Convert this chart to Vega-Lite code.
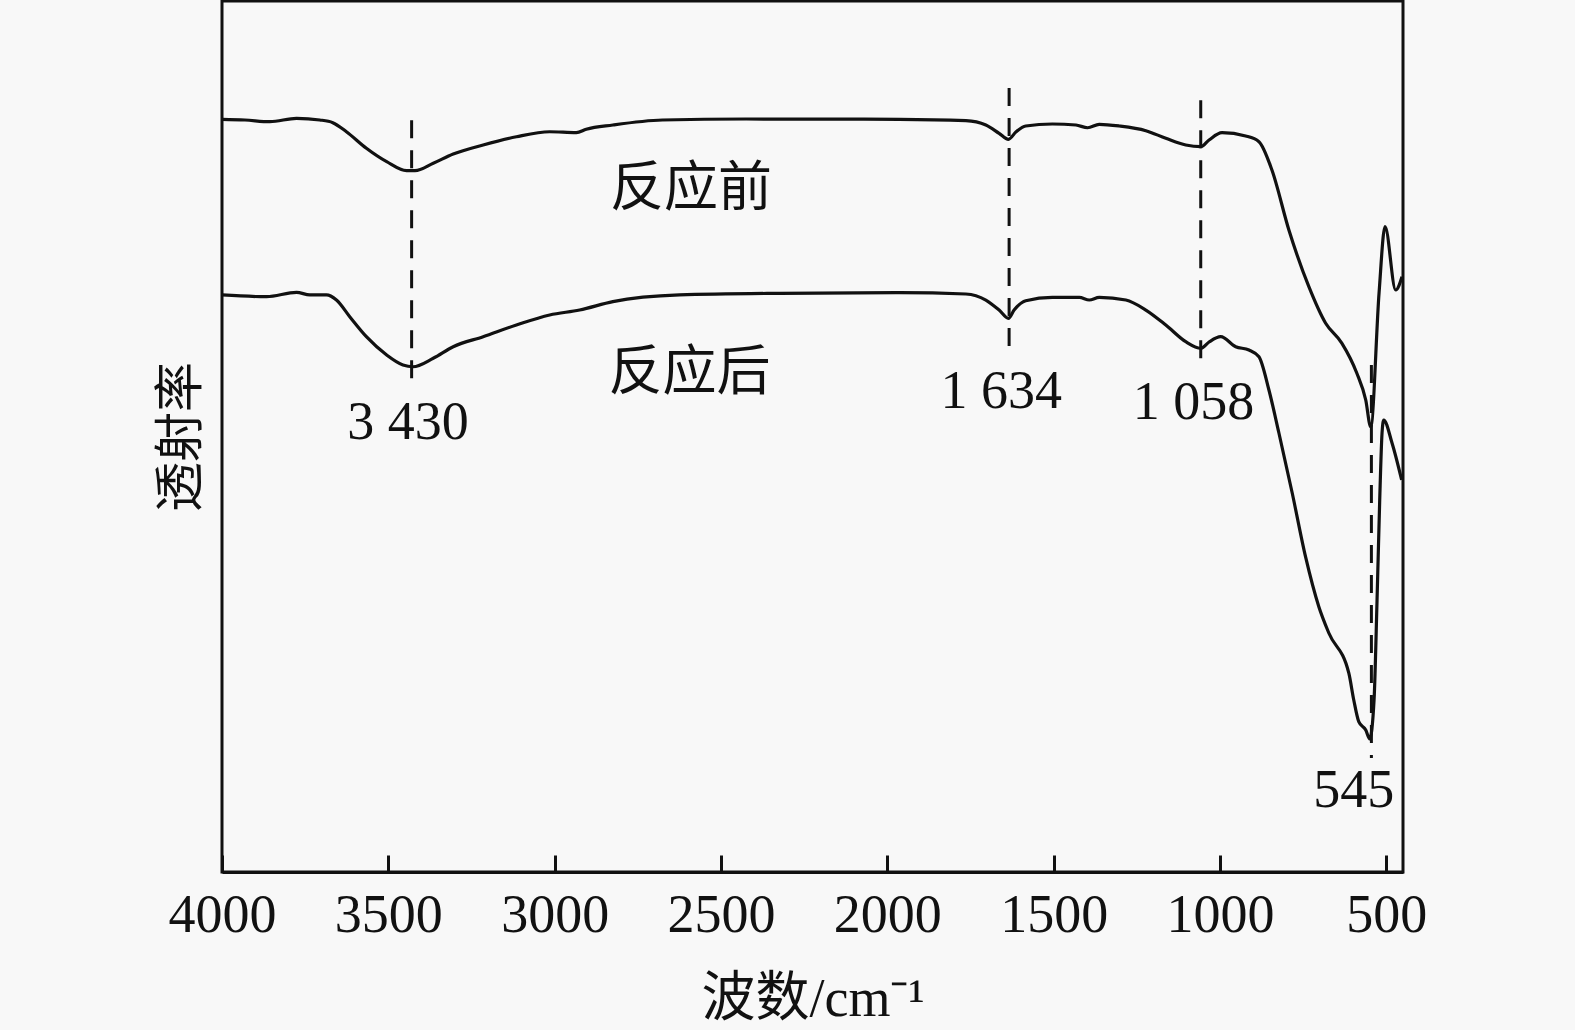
{
  "$schema": "https://vega.github.io/schema/vega-lite/v6.json",
  "width": 1181,
  "height": 871,
  "autosize": {"type": "none"},
  "padding": {"left": 222, "top": 1, "right": 172, "bottom": 158},
  "background": "#f8f8f8",
  "config": {
    "view": {"stroke": "#111111", "strokeWidth": 3},
    "axis": {"grid": false}
  },
  "datasets": {
    "spectra": [
      {"sample": "反应前", "wavenumber": 4000, "T": 86.42},
      {"sample": "反应前", "wavenumber": 3931, "T": 86.34},
      {"sample": "反应前", "wavenumber": 3856, "T": 86.14},
      {"sample": "反应前", "wavenumber": 3776, "T": 86.53},
      {"sample": "反应前", "wavenumber": 3706, "T": 86.34},
      {"sample": "反应前", "wavenumber": 3667, "T": 86.03},
      {"sample": "反应前", "wavenumber": 3626, "T": 84.99},
      {"sample": "反应前", "wavenumber": 3566, "T": 83.09},
      {"sample": "反应前", "wavenumber": 3505, "T": 81.55},
      {"sample": "反应前", "wavenumber": 3445, "T": 80.52},
      {"sample": "反应前", "wavenumber": 3420, "T": 80.52},
      {"sample": "反应前", "wavenumber": 3365, "T": 81.37},
      {"sample": "反应前", "wavenumber": 3305, "T": 82.43},
      {"sample": "反应前", "wavenumber": 3215, "T": 83.47},
      {"sample": "反应前", "wavenumber": 3115, "T": 84.42},
      {"sample": "反应前", "wavenumber": 3015, "T": 84.99},
      {"sample": "反应前", "wavenumber": 2935, "T": 84.88},
      {"sample": "反应前", "wavenumber": 2905, "T": 85.27},
      {"sample": "反应前", "wavenumber": 2825, "T": 85.76},
      {"sample": "反应前", "wavenumber": 2676, "T": 86.34},
      {"sample": "反应前", "wavenumber": 2424, "T": 86.45},
      {"sample": "反应前", "wavenumber": 1964, "T": 86.42},
      {"sample": "反应前", "wavenumber": 1764, "T": 86.26},
      {"sample": "反应前", "wavenumber": 1704, "T": 85.76},
      {"sample": "反应前", "wavenumber": 1664, "T": 84.81},
      {"sample": "反应前", "wavenumber": 1636, "T": 84.12},
      {"sample": "反应前", "wavenumber": 1613, "T": 84.99},
      {"sample": "反应前", "wavenumber": 1584, "T": 85.65},
      {"sample": "反应前", "wavenumber": 1504, "T": 85.88},
      {"sample": "反应前", "wavenumber": 1433, "T": 85.76},
      {"sample": "反应前", "wavenumber": 1398, "T": 85.45},
      {"sample": "反应前", "wavenumber": 1363, "T": 85.84},
      {"sample": "反应前", "wavenumber": 1303, "T": 85.65},
      {"sample": "反应前", "wavenumber": 1223, "T": 85.11},
      {"sample": "反应前", "wavenumber": 1163, "T": 84.24},
      {"sample": "反应前", "wavenumber": 1103, "T": 83.47},
      {"sample": "反应前", "wavenumber": 1058, "T": 83.27},
      {"sample": "反应前", "wavenumber": 1033, "T": 84.04},
      {"sample": "反应前", "wavenumber": 994, "T": 84.88},
      {"sample": "反应前", "wavenumber": 923, "T": 84.5},
      {"sample": "反应前", "wavenumber": 883, "T": 83.85},
      {"sample": "反应前", "wavenumber": 844, "T": 80.6},
      {"sample": "反应前", "wavenumber": 793, "T": 73.71},
      {"sample": "反应前", "wavenumber": 733, "T": 67.2},
      {"sample": "反应前", "wavenumber": 683, "T": 63.03},
      {"sample": "反应前", "wavenumber": 634, "T": 60.73},
      {"sample": "反应前", "wavenumber": 589, "T": 57.29},
      {"sample": "反应前", "wavenumber": 562, "T": 54.19},
      {"sample": "反应前", "wavenumber": 547, "T": 51.09},
      {"sample": "反应前", "wavenumber": 522, "T": 66.47},
      {"sample": "反应前", "wavenumber": 504, "T": 74.09},
      {"sample": "反应前", "wavenumber": 472, "T": 66.82},
      {"sample": "反应前", "wavenumber": 453, "T": 68.35},
      {"sample": "反应后", "wavenumber": 4000, "T": 66.25},
      {"sample": "反应后", "wavenumber": 3866, "T": 66.05},
      {"sample": "反应后", "wavenumber": 3776, "T": 66.55},
      {"sample": "反应后", "wavenumber": 3736, "T": 66.25},
      {"sample": "反应后", "wavenumber": 3686, "T": 66.25},
      {"sample": "反应后", "wavenumber": 3656, "T": 65.67},
      {"sample": "反应后", "wavenumber": 3616, "T": 63.75},
      {"sample": "反应后", "wavenumber": 3566, "T": 61.46},
      {"sample": "反应后", "wavenumber": 3505, "T": 59.36},
      {"sample": "反应后", "wavenumber": 3456, "T": 58.21},
      {"sample": "反应后", "wavenumber": 3426, "T": 58.01},
      {"sample": "反应后", "wavenumber": 3365, "T": 58.98},
      {"sample": "反应后", "wavenumber": 3305, "T": 60.31},
      {"sample": "反应后", "wavenumber": 3215, "T": 61.46},
      {"sample": "反应后", "wavenumber": 3115, "T": 62.8},
      {"sample": "反应后", "wavenumber": 3015, "T": 63.95},
      {"sample": "反应后", "wavenumber": 2925, "T": 64.52},
      {"sample": "反应后", "wavenumber": 2825, "T": 65.48},
      {"sample": "反应后", "wavenumber": 2625, "T": 66.25},
      {"sample": "反应后", "wavenumber": 2324, "T": 66.44},
      {"sample": "反应后", "wavenumber": 1964, "T": 66.51},
      {"sample": "反应后", "wavenumber": 1764, "T": 66.36},
      {"sample": "反应后", "wavenumber": 1704, "T": 65.67},
      {"sample": "反应后", "wavenumber": 1664, "T": 64.52},
      {"sample": "反应后", "wavenumber": 1636, "T": 63.57},
      {"sample": "反应后", "wavenumber": 1619, "T": 64.52},
      {"sample": "反应后", "wavenumber": 1584, "T": 65.59},
      {"sample": "反应后", "wavenumber": 1504, "T": 65.98},
      {"sample": "反应后", "wavenumber": 1423, "T": 65.98},
      {"sample": "反应后", "wavenumber": 1393, "T": 65.67},
      {"sample": "反应后", "wavenumber": 1363, "T": 65.98},
      {"sample": "反应后", "wavenumber": 1283, "T": 65.67},
      {"sample": "反应后", "wavenumber": 1223, "T": 64.52},
      {"sample": "反应后", "wavenumber": 1163, "T": 62.8},
      {"sample": "反应后", "wavenumber": 1103, "T": 60.88},
      {"sample": "反应后", "wavenumber": 1058, "T": 60.13},
      {"sample": "反应后", "wavenumber": 1033, "T": 60.85},
      {"sample": "反应后", "wavenumber": 998, "T": 61.46},
      {"sample": "反应后", "wavenumber": 953, "T": 60.31},
      {"sample": "反应后", "wavenumber": 913, "T": 59.93},
      {"sample": "反应后", "wavenumber": 883, "T": 59.16},
      {"sample": "反应后", "wavenumber": 853, "T": 55.34},
      {"sample": "反应后", "wavenumber": 823, "T": 50.4},
      {"sample": "反应后", "wavenumber": 783, "T": 43.51},
      {"sample": "反应后", "wavenumber": 743, "T": 36.2},
      {"sample": "反应后", "wavenumber": 703, "T": 30.46},
      {"sample": "反应后", "wavenumber": 673, "T": 27.44},
      {"sample": "反应后", "wavenumber": 613, "T": 22.85},
      {"sample": "反应后", "wavenumber": 598, "T": 19.75},
      {"sample": "反应后", "wavenumber": 583, "T": 17.26},
      {"sample": "反应后", "wavenumber": 562, "T": 16.3},
      {"sample": "反应后", "wavenumber": 550, "T": 15.27},
      {"sample": "反应后", "wavenumber": 537, "T": 19.75},
      {"sample": "反应后", "wavenumber": 528, "T": 31.23},
      {"sample": "反应后", "wavenumber": 520, "T": 42.71},
      {"sample": "反应后", "wavenumber": 513, "T": 50.4},
      {"sample": "反应后", "wavenumber": 508, "T": 51.89},
      {"sample": "反应后", "wavenumber": 483, "T": 49.25},
      {"sample": "反应后", "wavenumber": 454, "T": 45.01}
    ],
    "peaks": [
      {"wavenumber": 3430, "top": 86.3, "bottom": 55.3},
      {"wavenumber": 1634, "top": 90.0, "bottom": 59.0},
      {"wavenumber": 1058, "top": 88.6, "bottom": 57.9},
      {"wavenumber": 545, "top": 58.2, "bottom": 13.1}
    ],
    "labels": [
      {"text": "3 430", "wavenumber": 3441, "T": 51.5},
      {"text": "1 634", "wavenumber": 1658, "T": 55.1},
      {"text": "1 058", "wavenumber": 1080, "T": 53.8},
      {"text": "545", "wavenumber": 598, "T": 9.3},
      {"text": "反应前", "wavenumber": 2590, "T": 78.3},
      {"text": "反应后", "wavenumber": 2595, "T": 57.2}
    ]
  },
  "layer": [
    {
      "data": {"name": "spectra"},
      "mark": {"type": "line", "color": "#111111", "strokeWidth": 3.2, "strokeJoin": "round", "interpolate": "monotone"},
      "encoding": {
        "x": {
          "field": "wavenumber",
          "type": "quantitative",
          "scale": {"domain": [4000, 450], "nice": false, "zero": false},
          "axis": {
            "values": [4000, 3500, 3000, 2500, 2000, 1500, 1000, 500],
            "format": "d",
            "title": "波数/cm⁻¹",
            "titleFont": "Liberation Serif, Noto Sans CJK SC",
            "titleFontSize": 54,
            "titleFontWeight": "normal",
            "titleColor": "#111111",
            "titlePadding": 30,
            "labelFont": "Liberation Serif",
            "labelFontSize": 54,
            "labelColor": "#111111",
            "labelFlush": false,
            "labelOverlap": false,
            "labelPadding": 33,
            "domainColor": "#111111",
            "domainWidth": 3,
            "tickColor": "#111111",
            "tickWidth": 3,
            "tickSize": -17
          }
        },
        "y": {
          "field": "T",
          "type": "quantitative",
          "scale": {"domain": [0, 100], "nice": false},
          "axis": {
            "title": "透射率",
            "titleFont": "Noto Sans CJK SC",
            "titleFontSize": 50,
            "titleFontWeight": "normal",
            "titleColor": "#111111",
            "titlePadding": 16,
            "labels": false,
            "ticks": false,
            "domain": false
          }
        },
        "detail": {"field": "sample"}
      }
    },
    {
      "data": {"name": "peaks"},
      "mark": {"type": "rule", "color": "#111111", "strokeWidth": 3, "strokeDash": [18, 12]},
      "encoding": {
        "x": {"field": "wavenumber", "type": "quantitative"},
        "y": {"field": "top", "type": "quantitative"},
        "y2": {"field": "bottom"}
      }
    },
    {
      "data": {"name": "labels"},
      "mark": {"type": "text", "font": "Liberation Serif, Noto Sans CJK SC", "fontSize": 54, "color": "#111111", "align": "center", "baseline": "middle"},
      "encoding": {
        "x": {"field": "wavenumber", "type": "quantitative"},
        "y": {"field": "T", "type": "quantitative"},
        "text": {"field": "text"}
      }
    }
  ]
}
